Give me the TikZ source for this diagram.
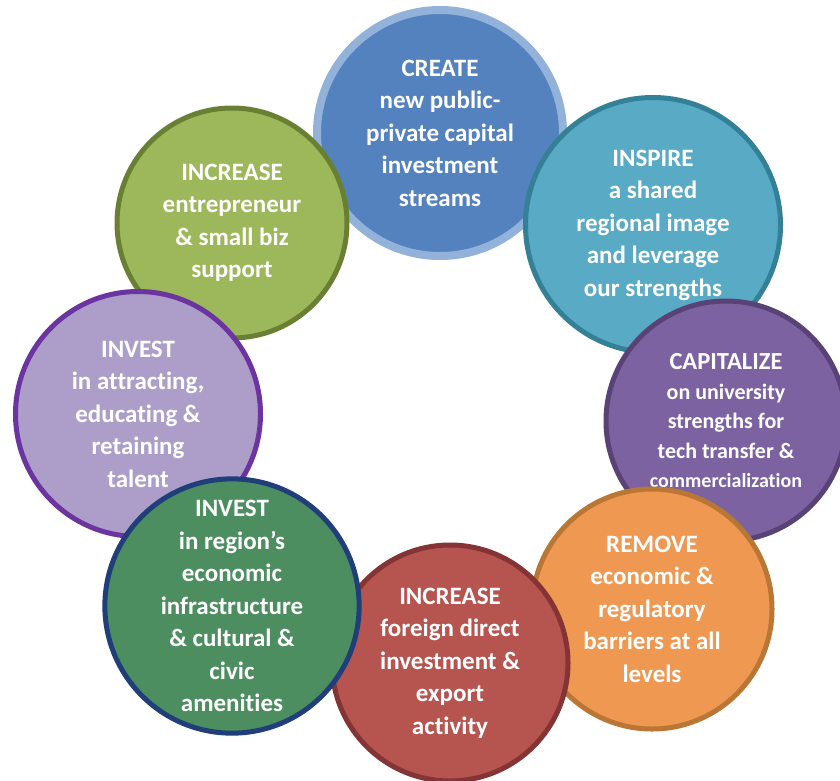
\documentclass[tikz,border=0pt]{standalone}
\usepackage{fontspec}
\setmainfont{Carlito}[Ligatures=NoCommon]

% fill and rim colours of the eight goals
\definecolor{createfill}{RGB}{84,130,190}
\definecolor{createline}{RGB}{146,178,218}
\definecolor{inspirefill}{RGB}{88,170,197}
\definecolor{inspireline}{RGB}{52,128,150}
\definecolor{capitalizefill}{RGB}{124,98,160}
\definecolor{capitalizeline}{RGB}{88,66,118}
\definecolor{removefill}{RGB}{238,152,82}
\definecolor{removeline}{RGB}{185,118,52}
\definecolor{foreignfill}{RGB}{182,84,80}
\definecolor{foreignline}{RGB}{132,52,52}
\definecolor{regionfill}{RGB}{76,142,96}
\definecolor{regionline}{RGB}{32,62,122}
\definecolor{talentfill}{RGB}{172,158,200}
\definecolor{talentline}{RGB}{108,52,160}
\definecolor{smallbizfill}{RGB}{157,184,90}
\definecolor{smallbizline}{RGB}{105,128,52}

\tikzset{
    goal/.style={circle, draw=#1line, fill=#1fill, line width=5pt,
        inner sep=0pt, align=center, text=white,
        font=\bfseries\fontsize{25}{32.5}\selectfont},
    goalsize/.style={minimum size=#1pt}
}

\begin{document}
\begin{tikzpicture}[x=1pt, y=-1pt]
    % Page
    \clip (0,0) rectangle (840,780);
    \fill[white] (0,0) rectangle (840,780);

    % Ring of goals, drawn in stacking order
    \node[goal=create, goalsize=246, line width=8pt] (create) at (440,133)
        {CREATE\\ new public-\\ private capital\\ investment\\ streams};
    \node[goal=inspire, goalsize=255] (inspire) at (653,225)
        {INSPIRE\\ a shared\\ regional image\\ and leverage\\ our strengths};
    \node[goal=capitalize, goalsize=240, font=\bfseries\fontsize{22}{29.5}\selectfont]
        (capitalize) at (726,421)
        {{\fontsize{24.5}{29.5}\selectfont CAPITALIZE}\\ on university\\ strengths for\\
         tech transfer \&\\ {\fontsize{20}{27}\selectfont commercialization}};
    \node[goal=remove, goalsize=240] (remove) at (652,609)
        {REMOVE\\ economic \&\\ regulatory\\ barriers at all\\ levels};
    \node[goal=foreign, goalsize=236] (foreign) at (450,663)
        {INCREASE\\ foreign direct\\ investment \&\\ export\\ activity};
    \node[goal=smallbiz, goalsize=230] (smallbiz) at (232,223)
        {INCREASE\\ entrepreneur\\ \& small biz\\ support};
    \node[goal=talent, goalsize=245] (talent) at (138,414)
        {INVEST\\ in attracting,\\ educating \&\\ retaining\\ talent};
    \node[goal=region, goalsize=245] (region) at (232,606)
        {INVEST\\ in region’s\\ economic\\ infrastructure\\ \& cultural \&\\ civic\\ amenities};
\end{tikzpicture}
\end{document}
